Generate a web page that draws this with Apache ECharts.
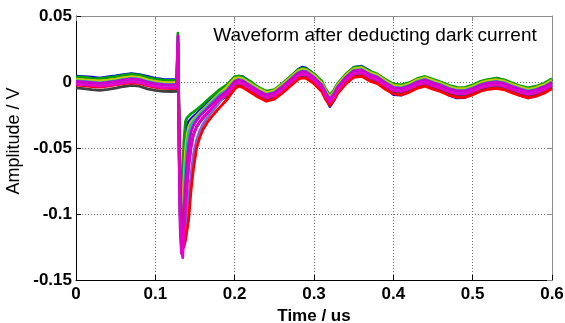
<!DOCTYPE html>
<html>
<head>
<meta charset="utf-8">
<style>
  html, body { margin: 0; padding: 0; background: #fff; }
  #chart { width: 565px; height: 323px; }
</style>
<script src="https://cdn.jsdelivr.net/npm/echarts@6/dist/echarts.min.js"></script>
</head>
<body>
<div id="chart"></div>
<script>
// Sample times (us)
const timeUs = [0, 0.01, 0.02, 0.03, 0.04, 0.05, 0.06, 0.07, 0.08, 0.09, 0.1, 0.11, 0.12, 0.127,
  0.1285, 0.13, 0.1315, 0.133, 0.1345, 0.136, 0.138, 0.14, 0.142, 0.145, 0.148, 0.152, 0.156, 0.16, 0.165, 0.17, 0.175, 0.18,
  0.19, 0.2, 0.205, 0.21, 0.22, 0.23, 0.24, 0.25, 0.26, 0.27, 0.28, 0.285, 0.29, 0.3, 0.31, 0.315, 0.32, 0.325, 0.33,
  0.34, 0.35, 0.36, 0.37, 0.38, 0.39, 0.4, 0.41, 0.42, 0.43, 0.44, 0.45, 0.46, 0.47, 0.48, 0.49, 0.5, 0.51, 0.52, 0.53,
  0.54, 0.55, 0.56, 0.57, 0.58, 0.59, 0.6];

// Recorded traces after dark-current subtraction, amplitudes in mV
const traceBlue = [4.4,4.0,3.7,3.0,3.8,4.6,5.6,6.4,5.6,4.2,2.8,2.0,1.8,2.0,
  30,-50,-105,-100,-80,-56,-40,-33,-30,-28,-26.2,-24,-21.5,-19,-16,-13.5,-10.5,-7.5,
  -4.0,2.5,4.5,4.0,0.0,-6.0,-13.5,-12.5,-6.0,3.0,9.5,11.2,10.5,6.0,-2.0,-12.0,-18.5,-14.0,-7.0,4.0,11.0,12.0,8.5,4.0,-3.5,-9.5,-10.0,-7.0,-1.0,3.0,0.5,-5.5,-10.0,-12.0,-11.8,-8.5,-4.0,1.0,3.0,1.0,-4.5,-10.0,-12.0,-9.5,-5.0,2.0];
const traceGreen = [3.9,3.6,2.8,2.6,3.3,4.1,5.2,6.0,5.2,3.6,2.2,1.4,1.2,1.6,
  37,-30,-80,-90,-70,-45,-30,-27,-25.5,-24,-22.8,-21,-19,-17,-14,-11.5,-9,-6.2,
  -2.2,4.0,4.5,3.8,0.2,-4.0,-7.0,-5.8,-1.2,4.2,9.2,10.5,10.0,6.2,0.5,-5.5,-10.0,-6.2,-1.0,6.0,11.0,11.6,8.2,6.0,2.0,-1.5,-2.2,-0.5,2.5,4.2,2.0,0.0,-2.5,-4.0,-4.2,-2.2,0.5,2.0,2.8,1.6,-0.8,-3.0,-4.5,-3.2,-1.0,2.4];
const traceYellow = [2.2,1.6,1.2,0.8,1.4,2.2,3.3,4.0,3.5,1.6,0.5,-0.3,-0.6,-0.3,
  25,-40,-90,-110,-100,-75,-52,-40,-34,-30,-28,-25.5,-23.2,-20.8,-17.8,-15,-12,-9,
  -4.0,2.8,3.3,2.5,-1.2,-5.0,-8.0,-6.6,-2.0,3.2,8.5,9.7,9.2,5.2,-1.0,-7.0,-11.5,-7.5,-2.0,5.0,10.0,10.8,7.4,5.2,1.0,-2.5,-3.2,-1.3,1.7,3.3,1.0,-0.9,-3.5,-5.1,-5.1,-3.2,-0.5,1.0,1.7,0.6,-1.7,-3.9,-5.5,-4.3,-2.0,1.4];
const traceCyan = [0.8,0.5,-0.1,-0.6,0.0,0.9,2.0,2.7,2.2,0.4,-0.8,-1.6,-1.8,-1.6,
  28,-45,-100,-120,-115,-90,-65,-48,-39,-33,-30,-27,-24.5,-22,-19,-16,-13,-10,
  -6.2,0.8,2.0,1.2,-2.6,-6.4,-9.4,-7.8,-3.3,2.0,7.2,8.4,8.0,3.9,-2.3,-8.3,-12.8,-8.8,-3.3,3.7,8.8,9.5,6.1,3.9,-0.3,-3.8,-4.5,-2.6,0.4,2.0,-0.3,-2.2,-4.8,-6.4,-6.4,-4.5,-1.8,-0.3,0.4,-0.7,-3.0,-5.2,-6.8,-5.6,-3.3,0.1];
const traceDark = [-4.4,-5.0,-5.8,-6.4,-5.6,-4.6,-3.4,-2.6,-3.2,-5.2,-6.4,-7.0,-7.2,-7.0,
  22,-35,-85,-105,-115,-110,-95,-78,-62,-48,-40,-34,-30.5,-27.5,-24,-21,-18,-14.5,
  -11.0,-3.3,-2.0,-2.8,-6.6,-10.4,-13.4,-11.8,-7.3,-2.0,3.2,4.4,4.0,-0.1,-6.3,-12.3,-16.8,-12.8,-7.3,-0.3,4.8,5.5,2.1,-0.1,-4.3,-7.8,-8.5,-6.6,-3.6,-2.0,-4.3,-6.2,-8.8,-10.4,-10.4,-8.5,-5.8,-4.3,-3.6,-4.7,-7.0,-9.2,-10.8,-9.6,-7.3,-3.9];
const traceSlate = [-0.2,-0.9,-1.2,-2.0,-1.0,-0.4,1.0,1.4,1.2,-0.6,-2.2,-2.6,-3.1,-2.7,
  34,-60,-110,-125,-127,-122,-112,-100,-88,-70,-55,-44,-37,-32,-27.5,-23.5,-20,-16,
  -8.5,-0.5,0.8,0.2,-3.6,-7.8,-10.4,-9.2,-4.3,0.6,6.2,7.0,6.9,2.5,-3.6,-9.6,-13.8,-10.2,-4.4,2.4,7.8,8.2,5.0,2.5,-1.6,-4.9,-5.8,-3.7,-0.9,0.9,-1.4,-3.5,-5.9,-7.7,-7.5,-5.8,-2.9,-1.6,-0.7,-2.0,-4.1,-6.5,-7.9,-6.9,-4.4,-1.2];
const traceRed = [-2.4,-2.8,-3.4,-3.8,-3.2,-2.2,-1.2,-0.6,-1.0,-2.8,-4.0,-4.8,-5.0,-4.8,
  24,-30,-80,-110,-120,-125,-120,-112,-104,-82,-66,-50,-42,-36,-31,-27,-23.5,-20,
  -13.5,-5.2,-3.2,-4.0,-7.8,-11.6,-14.6,-13.0,-8.5,-3.2,2.0,3.2,2.8,-1.3,-7.5,-13.5,-17.8,-14.0,-8.5,-1.5,3.6,4.3,0.9,-1.3,-5.5,-9.0,-9.7,-7.8,-4.8,-3.2,-5.5,-7.4,-10.0,-11.6,-11.6,-9.7,-7.0,-5.5,-4.8,-5.9,-8.2,-10.4,-12.0,-10.8,-8.5,-5.1];
const traceMagenta = [0.5,0.0,-0.4,-1.0,-0.3,0.5,1.6,2.4,1.8,0.0,-1.2,-2.0,-2.2,-2.0,
  35,-55,-115,-130,-120,-100,-78,-60,-48,-38,-33,-29,-26,-23.5,-20.5,-17.5,-14.5,-11.5,
  -7.0,0.4,1.6,0.8,-3.0,-6.8,-9.8,-8.2,-3.7,1.6,6.8,8.0,7.6,3.5,-2.7,-8.7,-13.2,-9.2,-3.7,3.3,8.4,9.1,5.7,3.5,-0.7,-4.2,-4.9,-3.0,0.0,1.6,-0.7,-2.6,-5.2,-6.8,-6.8,-4.9,-2.2,-0.7,0.0,-1.1,-3.4,-5.6,-7.2,-6.0,-3.7,-0.3];
const tracePink = [-1.8,-2.2,-2.6,-3.2,-2.6,-1.7,-0.6,0.1,-0.4,-2.2,-3.4,-4.2,-4.4,-4.2,
  29,-50,-105,-125,-133,-115,-95,-78,-65,-50,-40,-34,-30,-27,-24,-20.5,-17,-13.5,
  -9.5,-1.9,-0.6,-1.4,-5.2,-9.0,-12.0,-10.4,-5.9,-0.6,4.6,5.8,5.4,1.3,-4.9,-10.9,-15.4,-11.4,-5.9,1.1,6.2,6.9,3.5,1.3,-2.9,-6.4,-7.1,-5.2,-2.2,-0.6,-2.9,-4.8,-7.4,-9.0,-9.0,-7.1,-4.4,-2.9,-2.2,-3.3,-5.6,-7.8,-9.4,-8.2,-5.9,-2.5];

// Tick labels
const xTickLabels = ['0', '0.1', '0.2', '0.3', '0.4', '0.5', '0.6'];
const yTickLabels = ['-0.15', '-0.1', '-0.05', '0', '0.05'];

// Drawing order: later traces sit on top
const traces = [
  { name: 'trace 1', color: '#0000ff', values: traceBlue },
  { name: 'trace 2', color: '#00a000', values: traceGreen },
  { name: 'trace 3', color: '#c8c800', values: traceYellow },
  { name: 'trace 4', color: '#00bfbf', values: traceCyan },
  { name: 'trace 5', color: '#404040', values: traceDark },
  { name: 'trace 6', color: '#7a68d8', values: traceSlate },
  { name: 'trace 7', color: '#ff0000', values: traceRed },
  { name: 'trace 8', color: '#cc00cc', values: traceMagenta },
  { name: 'trace 9', color: '#e600c8', values: tracePink }
];

const FONT = 'Arial, "Liberation Sans", sans-serif';
const chart = echarts.init(document.getElementById('chart'), null, { renderer: 'canvas' });

const gridLine = { show: true, lineStyle: { color: '#6e6e6e', type: [1, 2], width: 1 } };

chart.setOption({
  animation: false,
  backgroundColor: '#ffffff',
  grid: { left: 76, right: 13, top: 16, bottom: 43, containLabel: false, outerBoundsMode: 'none' },
  xAxis: [{
    type: 'value', min: 0, max: 0.6, interval: 0.1,
    axisLine: { show: true, onZero: false, lineStyle: { color: '#000', width: 1 } },
    axisTick: { show: true, inside: true, length: 5, lineStyle: { color: '#000' } },
    axisLabel: {
      color: '#000', fontFamily: FONT, fontWeight: 'bold', fontSize: 17, margin: 6,
      formatter: v => xTickLabels[Math.round(v * 10)]
    },
    splitLine: gridLine,
    name: 'Time / us', nameLocation: 'middle', nameGap: 25,
    nameTextStyle: { color: '#000', fontFamily: FONT, fontWeight: 'bold', fontSize: 17 }
  }, {
    type: 'value', min: 0, max: 0.6, interval: 0.1, position: 'top',
    axisLine: { show: true, onZero: false, lineStyle: { color: '#8c8c8c', width: 1 } },
    axisTick: { show: true, inside: true, length: 5, lineStyle: { color: '#8c8c8c' } },
    axisLabel: { show: false }, splitLine: { show: false }
  }],
  yAxis: [{
    type: 'value', min: -0.15, max: 0.05, interval: 0.05,
    axisLine: { show: true, onZero: false, lineStyle: { color: '#000', width: 1 } },
    axisTick: { show: true, inside: true, length: 5, lineStyle: { color: '#000' } },
    axisLabel: {
      color: '#000', fontFamily: FONT, fontWeight: 'bold', fontSize: 17, margin: 4,
      formatter: v => yTickLabels[Math.round((v + 0.15) / 0.05)]
    },
    splitLine: gridLine
  }, {
    type: 'value', min: -0.15, max: 0.05, interval: 0.05, position: 'right',
    axisLine: { show: true, onZero: false, lineStyle: { color: '#8c8c8c', width: 1 } },
    axisTick: { show: true, inside: true, length: 5, lineStyle: { color: '#8c8c8c' } },
    axisLabel: { show: false }, splitLine: { show: false }
  }],
  graphic: [{
    type: 'text', x: 14, y: 141, rotation: Math.PI / 2,
    style: {
      text: 'Amplitude / V', fill: '#000', font: '18px ' + FONT,
      textAlign: 'center', textVerticalAlign: 'middle'
    }
  }, {
    type: 'text', x: 375, y: 36,
    style: {
      text: 'Waveform after deducting dark current', fill: '#000', font: '19px ' + FONT,
      textAlign: 'center', textVerticalAlign: 'middle'
    }
  }],
  series: traces.map(tr => ({
    name: tr.name,
    type: 'line',
    xAxisIndex: 0, yAxisIndex: 0,
    showSymbol: false, symbol: 'none',
    clip: true,
    lineStyle: { color: tr.color, width: 2.8, join: 'round' },
    data: timeUs.map((t, i) => [t, tr.values[i] / 1000])
  }))
});
</script>
</body>
</html>
